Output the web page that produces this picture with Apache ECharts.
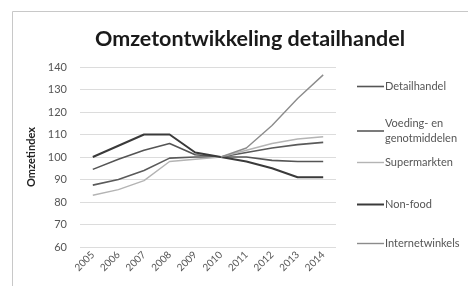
<!DOCTYPE html>
<html>
<head>
<meta charset="utf-8">
<script src="https://cdn.jsdelivr.net/npm/echarts@6/dist/echarts.min.js"></script>
<style>
  html, body { margin: 0; padding: 0; background: #fff; }
  #chart { width: 468px; height: 286px; }
</style>
</head>
<body>
<div id="chart"></div>
<script>
// data
const years = ['2005', '2006', '2007', '2008', '2009', '2010', '2011', '2012', '2013', '2014'];
const detailhandel = [94.5, 99, 103, 106, 101, 100, 100, 98.5, 98, 98];
const voeding = [87.5, 90, 94, 99.5, 100, 100, 102, 104, 105.5, 106.5];
const supermarkten = [83, 85.5, 89.5, 98, 99, 100, 103, 106, 108, 109];
const nonFood = [100, 105, 110, 110, 102, 100, 98, 95, 91, 91];
const internetwinkels = [null, null, null, null, null, 100, 104, 114, 126, 136.5];
const yTicks = [60, 70, 80, 90, 100, 110, 120, 130, 140];

const FONT = 'Lato';
const names = ['Detailhandel', 'Voeding- en genotmiddelen', 'Supermarkten', 'Non-food', 'Internetwinkels'];
const colors = ['#555555', '#5a5a5a', '#b4b4b4', '#3a3a3a', '#8c8c8c'];
const widths = [1.6, 1.6, 1.4, 2, 1.4];
const values = [detailhandel, voeding, supermarkten, nonFood, internetwinkels];
const legendTops = [74, 111, 150, 192, 231];

const chart = echarts.init(document.getElementById('chart'));

chart.setOption({
  animation: false,
  backgroundColor: '#fff',
  graphic: [{
    type: 'rect',
    shape: { x: 12.5, y: 11.5, width: 470, height: 290 },
    style: { fill: 'none', stroke: '#c8c8c8', lineWidth: 1 },
    silent: true
  }],
  title: {
    text: 'Omzetontwikkeling detailhandel',
    left: 245,
    textAlign: 'center',
    top: 23,
    textStyle: { fontFamily: FONT, fontSize: 21.5, fontWeight: 'bold', color: '#1a1a1a' }
  },
  // één legend per reeks, zodat de verticale posities los te zetten zijn
  legend: names.map((n, i) => ({
    data: [n],
    orient: 'vertical',
    left: 352,
    top: legendTops[i],
    icon: 'rect',
    itemWidth: 27,
    itemHeight: widths[i],
    selectedMode: false,
    formatter: (name) => name === 'Voeding- en genotmiddelen' ? 'Voeding- en\ngenotmiddelen' : name,
    textStyle: { fontFamily: FONT, fontSize: 11, color: '#555', lineHeight: 15, padding: [0, 0, 0, -4] }
  })),
  grid: { left: 80, top: 67, width: 256, height: 180, containLabel: false },
  xAxis: {
    type: 'category',
    data: years,
    boundaryGap: true,
    axisLine: { show: false },
    axisTick: { show: false },
    axisLabel: { rotate: 45, fontFamily: FONT, fontSize: 10, color: '#555', margin: 6 }
  },
  yAxis: {
    type: 'value',
    min: yTicks[0],
    max: yTicks[yTicks.length - 1],
    interval: 10,
    name: 'Omzetindex',
    nameLocation: 'middle',
    nameRotate: 90,
    nameGap: 36,
    nameTextStyle: { fontFamily: FONT, fontSize: 11, fontWeight: 'bold', color: '#222' },
    axisLine: { show: false },
    axisTick: { show: false },
    axisLabel: { fontFamily: FONT, fontSize: 11, color: '#555', margin: 13 },
    splitLine: { lineStyle: { color: '#dcdcdc', width: 1 } }
  },
  series: names.map((n, i) => ({
    name: n,
    type: 'line',
    data: values[i],
    showSymbol: false,
    symbol: 'none',
    connectNulls: false,
    color: colors[i],
    lineStyle: { color: colors[i], width: widths[i] },
    itemStyle: { color: colors[i] }
  }))
});
</script>
</body>
</html>
